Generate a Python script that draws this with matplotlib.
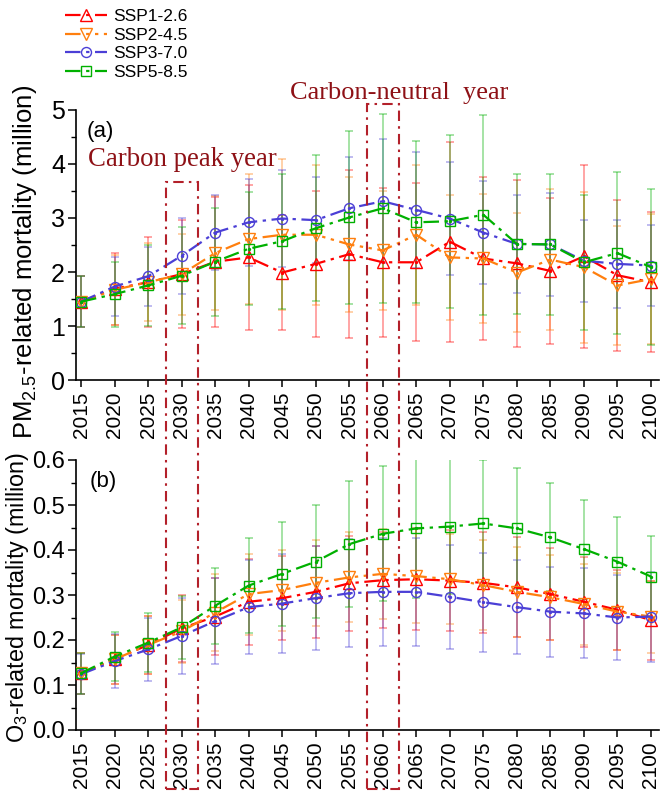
import matplotlib
matplotlib.use("Agg")
import matplotlib.pyplot as plt
from matplotlib.patches import Rectangle
from matplotlib.ticker import MultipleLocator, FormatStrFormatter
import numpy as np

plt.rcParams['font.family'] = ['Liberation Sans', 'DejaVu Sans']
plt.rcParams['mathtext.fontset'] = 'custom'
plt.rcParams['mathtext.rm'] = 'Liberation Sans'
plt.rcParams['mathtext.it'] = 'Liberation Sans:italic'

years = [2015, 2020, 2025, 2030, 2035, 2040, 2045, 2050, 2055, 2060,
         2065, 2070, 2075, 2080, 2085, 2090, 2095, 2100]
scenarios = ["SSP1-2.6", "SSP2-4.5", "SSP3-7.0", "SSP5-8.5"]

# Panel (a): PM2.5-related mortality (million)
pm_ssp126 = [1.45, 1.69, 1.81, 1.96, 2.19, 2.27, 1.99, 2.15, 2.33, 2.18,
             2.18, 2.56, 2.25, 2.16, 2.02, 2.29, 1.94, 1.81]
pm_ssp245 = [1.45, 1.67, 1.81, 1.96, 2.35, 2.61, 2.69, 2.69, 2.51, 2.40,
             2.69, 2.27, 2.25, 1.99, 2.23, 2.09, 1.75, 1.87]
pm_ssp370 = [1.45, 1.73, 1.92, 2.30, 2.73, 2.92, 2.99, 2.96, 3.18, 3.31,
             3.15, 2.99, 2.73, 2.52, 2.51, 2.21, 2.15, 2.12]
pm_ssp585 = [1.45, 1.59, 1.75, 1.93, 2.19, 2.43, 2.57, 2.81, 3.01, 3.18,
             2.92, 2.94, 3.06, 2.52, 2.51, 2.18, 2.35, 2.09]
pm_err126 = [0.47, 0.67, 0.83, 1.00, 1.20, 1.35, 1.06, 1.35, 1.55, 1.38,
             1.46, 1.85, 1.50, 1.55, 1.35, 1.70, 1.40, 1.30]
pm_err245 = [0.47, 0.65, 0.72, 0.75, 1.05, 1.20, 1.40, 1.30, 1.25, 1.10,
             1.30, 1.15, 1.20, 1.10, 1.30, 1.40, 1.10, 1.20]
pm_err370 = [0.47, 0.55, 0.55, 0.70, 0.70, 0.80, 0.90, 0.80, 0.95, 1.15,
             1.08, 1.05, 0.95, 0.90, 0.95, 0.76, 0.82, 0.75]
pm_err585 = [0.47, 0.60, 0.75, 0.90, 1.00, 1.05, 1.25, 1.35, 1.60, 1.75,
             1.50, 1.60, 1.85, 1.30, 1.30, 1.25, 1.50, 1.45]

# Panel (b): O3-related mortality (million)
o3_ssp126 = [0.126, 0.157, 0.189, 0.226, 0.252, 0.285, 0.293, 0.307, 0.326, 0.333,
             0.335, 0.332, 0.327, 0.317, 0.302, 0.285, 0.267, 0.244]
o3_ssp245 = [0.126, 0.157, 0.189, 0.219, 0.261, 0.302, 0.311, 0.327, 0.339, 0.347,
             0.342, 0.335, 0.322, 0.307, 0.295, 0.280, 0.263, 0.252]
o3_ssp370 = [0.124, 0.153, 0.179, 0.209, 0.242, 0.273, 0.281, 0.293, 0.304, 0.307,
             0.307, 0.296, 0.284, 0.273, 0.263, 0.259, 0.250, 0.252]
o3_ssp585 = [0.126, 0.163, 0.194, 0.228, 0.276, 0.321, 0.347, 0.374, 0.413, 0.436,
             0.448, 0.452, 0.459, 0.448, 0.428, 0.402, 0.374, 0.341]
o3_err126 = [0.045, 0.055, 0.065, 0.075, 0.085, 0.095, 0.094, 0.103, 0.105, 0.107,
             0.113, 0.113, 0.112, 0.111, 0.103, 0.100, 0.089, 0.088]
o3_err245 = [0.045, 0.055, 0.065, 0.070, 0.085, 0.090, 0.090, 0.095, 0.100, 0.100,
             0.105, 0.100, 0.100, 0.100, 0.095, 0.090, 0.085, 0.080]
o3_err370 = [0.045, 0.060, 0.070, 0.085, 0.095, 0.105, 0.110, 0.115, 0.120, 0.120,
             0.120, 0.115, 0.110, 0.105, 0.100, 0.100, 0.095, 0.100]
o3_err585 = [0.045, 0.055, 0.065, 0.070, 0.085, 0.105, 0.115, 0.125, 0.140, 0.150,
             0.155, 0.150, 0.140, 0.135, 0.120, 0.110, 0.100, 0.090]

peak_year = 2030
neutral_year = 2060

colors = ['#FF0000', '#FF7F0E', '#4B3FD6', '#00B000']
markers = ['^', 'v', 'o', 's']
msizes = [8.5, 8.5, 7.2, 6.6]
dashes = [(0, (7, 2.5, 1.5, 2.5)), (0, (7, 2.5, 1.5, 2.5, 1.5, 2.5)),
          (0, (7, 2.5, 1.5, 2.5)), (0, (7, 2.5, 1.5, 2.5))]
box_color = '#B3202A'
text_color = '#8E1116'

W, H = 660, 793
fig = plt.figure(figsize=(W / 100, H / 100), dpi=100)

def px_axes(l, t, r, b):
    return fig.add_axes([l / W, 1 - b / H, (r - l) / W, (b - t) / H])

ax1 = px_axes(76, 110, 659, 380)
ax2 = px_axes(76, 460, 659, 730)

def draw(ax, series, errs):
    handles = []
    for vals, err, c in zip(series, errs, colors):
        ax.errorbar(years, vals, yerr=err, fmt='none', ecolor=c, alpha=0.45,
                    elinewidth=1.1, capsize=3.2, capthick=1.1, zorder=2)
    for vals, c, m, ms, ls, lab in zip(series, colors, markers, msizes, dashes, scenarios):
        h, = ax.plot(years, vals, color=c, linestyle=ls, linewidth=1.6, marker=m,
                     markersize=ms, markerfacecolor='none', markeredgecolor=c,
                     markeredgewidth=1.0, label=lab, zorder=3)
        ax.plot(years, vals, linestyle='none', marker='o', markersize=1.4,
                color=c, zorder=3)
        handles.append(h)
    return handles

handles = draw(ax1, [pm_ssp126, pm_ssp245, pm_ssp370, pm_ssp585],
               [pm_err126, pm_err245, pm_err370, pm_err585])
draw(ax2, [o3_ssp126, o3_ssp245, o3_ssp370, o3_ssp585],
     [o3_err126, o3_err245, o3_err370, o3_err585])

for ax in (ax1, ax2):
    ax.set_xlim(2014.25, 2101.2)
    ax.set_xticks(years)
    ax.set_xticklabels([str(y) for y in years], rotation=90, fontsize=15)
    for s in ('top', 'right'):
        ax.spines[s].set_visible(False)
    for s in ('left', 'bottom'):
        ax.spines[s].set_linewidth(1.2)
    ax.tick_params(axis='x', which='major', direction='out', length=5, width=1.1, pad=3.5)
    ax.tick_params(axis='y', which='major', direction='out', length=6, width=1.1, pad=2.0)
    ax.tick_params(axis='y', which='minor', direction='out', length=3.5, width=1.0)
    ax.tick_params(axis='x', which='minor', bottom=False)

ax1.tick_params(axis='y', which='major', labelsize=18)
ax2.tick_params(axis='y', which='major', labelsize=17)

ax1.set_ylim(0, 5)
ax1.yaxis.set_major_locator(MultipleLocator(1))
ax1.yaxis.set_minor_locator(MultipleLocator(0.5))
ax1.set_ylabel('PM$_{\\mathregular{2.5}}$-related mortality (million)', fontsize=18.5)
ax1.yaxis.set_label_coords(-0.063, 0.437)

ax2.set_ylim(0, 0.6)
ax2.yaxis.set_major_locator(MultipleLocator(0.1))
ax2.yaxis.set_minor_locator(MultipleLocator(0.05))
ax2.yaxis.set_major_formatter(FormatStrFormatter('%.1f'))
ax2.set_ylabel('O$_{\\mathregular{3}}$-related mortality (million)', fontsize=16.8)
ax2.yaxis.set_label_coords(-0.0765, 0.49)

fig.text(87 / W, 1 - 131 / H, '(a)', fontsize=16, va='center', ha='left')
fig.text(90 / W, 1 - 481 / H, '(b)', fontsize=16, va='center', ha='left')

fig.text(88 / W, 1 - 166 / H, 'Carbon peak year', family=['Liberation Serif'],
         fontsize=19.3, color=text_color, ha='left', va='baseline')
fig.text(290 / W, 1 - 99 / H, 'Carbon-neutral  year', family=['Liberation Serif'],
         fontsize=19, color=text_color, ha='left', va='baseline')

# dash-dot boxes marking the key years
inv = fig.transFigure.inverted()
half = 2.4
for yr, top_px in ((peak_year, 182), (neutral_year, 104)):
    x0 = inv.transform(ax1.transData.transform((yr - half, 0)))[0]
    x1 = inv.transform(ax1.transData.transform((yr + half, 0)))[0]
    y0 = 1 - 789 / H
    y1 = 1 - top_px / H
    rect = Rectangle((x0, y0), x1 - x0, y1 - y0, transform=fig.transFigure,
                     fill=False, edgecolor=box_color, linewidth=1.5,
                     linestyle=(0, (5, 2.5, 1.2, 2.5)), zorder=5)
    fig.add_artist(rect)

fig.legend(handles=handles, loc='upper left', bbox_to_anchor=(65 / W, 1 - 9 / H),
           frameon=False, fontsize=12.5, borderpad=0, borderaxespad=0,
           labelspacing=0.2, handlelength=2.4, handletextpad=0.4)

fig.savefig('out.png', dpi=100)
